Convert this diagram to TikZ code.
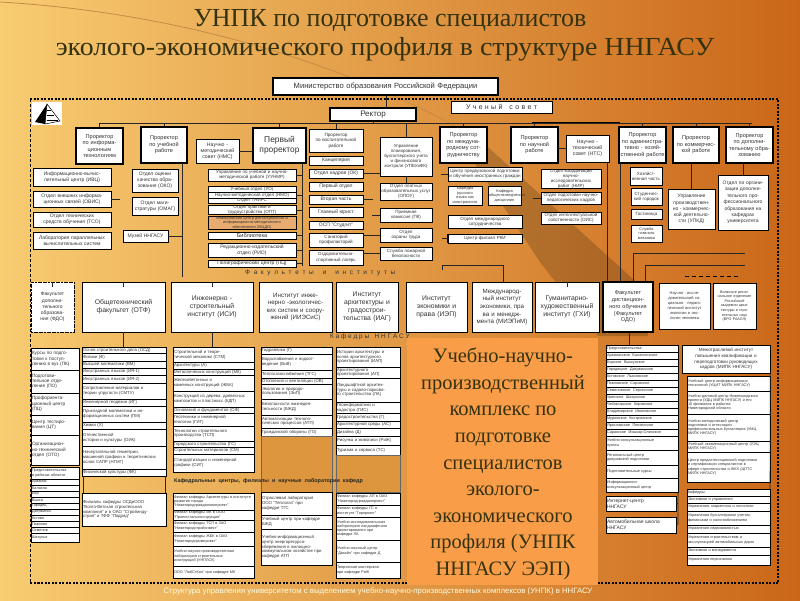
\documentclass[tikz,border=0pt]{standalone}
\usepackage{fontspec}
\setmainfont{Liberation Serif}
\setsansfont{Liberation Sans}
\definecolor{bgL}{RGB}{248,204,114}
\definecolor{bgM}{RGB}{238,168,82}
\definecolor{bgR}{RGB}{202,102,24}
\definecolor{ttl}{RGB}{52,50,16}
\definecolor{ovl}{RGB}{249,157,72}
\definecolor{darkfill}{RGB}{222,150,62}
\definecolor{brfill}{RGB}{232,172,112}
\definecolor{arcc}{RGB}{196,140,70}
\newcommand\bx[7][]{%
 \pgfmathsetmacro\bw{#5-#3}%
 \pgfmathsetmacro\bh{#6-#4}%
 \pgfmathsetmacro\bxc{(#3+#5)/2}%
 \pgfmathsetmacro\byc{(#4+#6)/2}%
 \pgfmathsetmacro\btw{max(#5-#3-2,1)}%
 \node[box,minimum width=\bw pt,minimum height=\bh pt,text width=\btw pt,#1] (#2) at (\bxc,\byc) {#7};}
\newcommand\stk[6][]{%
 \xdef\cury{#5}%
 \foreach \hh/\tx [count=\ii] in {#6}{%
   \pgfmathsetmacro\ny{\cury+\hh}%
   \bx[#1]{#2\ii}{#3}{\cury}{#4}{\ny}{\tx}%
   \global\let\cury\ny}%
}
\tikzset{
 box/.style={draw=black,line width=0.5pt,fill=white,inner xsep=1pt,inner ysep=0.2pt,align=center,font=\sffamily\fontsize{4.5}{5}\selectfont,text=black!80},
 pr/.style={line width=1.4pt,font=\sffamily\fontsize{5.6}{6.6}\selectfont},
 sb/.style={font=\sffamily\fontsize{5}{5.8}\selectfont},
 fac/.style={line width=0.8pt,font=\sffamily\fontsize{6.8}{8}\selectfont},
 lst/.style={align=left,font=\sffamily\fontsize{4.3}{4.8}\selectfont},
 tiny/.style={align=left,font=\sffamily\fontsize{3.8}{4.3}\selectfont},
 ln/.style={draw=black!85,line width=0.6pt},
 frame/.style={draw=black,line width=1.5pt,dash pattern=on 2pt off 1.5pt},
}
\begin{document}
\begin{tikzpicture}[x=1pt,y=-1pt]
\useasboundingbox (0,0) rectangle (800,600);
% background
\shade[left color=bgL,middle color=bgM,right color=bgR] (0,0) rectangle (800,600);
\fill[black,opacity=0.18] (458,138) -- (478,138) -- (645,290) -- (648,336) -- (598,336) -- (540,262) -- cycle;
\draw[arcc,line width=0.8pt] (0,2) .. controls (170,12) and (330,58) .. (455,126);
% title
\node[text=ttl,font=\fontsize{26}{30}\selectfont,inner sep=0] (t1) at (390,20) {УНПК по подготовке специалистов};
\node[text=ttl,font=\fontsize{26}{30}\selectfont,inner sep=0,xscale=1.07] (t2) at (385,49) {эколого-экономического профиля в структуре ННГАСУ};
% ministry
\bx[line width=2.6pt,font=\sffamily\fontsize{7.6}{9}\selectfont]{min}{273}{78}{498}{95}{Министерство образования Российской Федерации}
% frame
\draw[frame] (30,99) -- (778,99) -- (778,583) -- (30,583);
\draw[black,line width=1pt,dash pattern=on 3pt off 2pt] (30,99) -- (30,583);
% logo
\fill[white] (32,102) rectangle (62,125);
\fill[black] (47,104) -- (35,122) -- (45,124) -- cycle;
\draw[black,line width=0.5pt] (47,104) -- (45,124) -- (60,121) -- cycle;
\foreach \yy in {110,115,120}{\draw[black,line width=0.4pt] (46.5,\yy) -- ({46.5+(\yy-104)*0.7},\yy);}
% rector, council
\bx[line width=2.2pt,font=\sffamily\fontsize{8}{9}\selectfont]{rect}{330}{108}{416}{121}{Ректор}
\bx[line width=1pt,font=\sffamily\fontsize{7}{8}\selectfont]{sovet}{451}{101}{552}{113}{У~ч~е~н~ы~й~~~с~о~в~е~т}
\draw[ln] (min.south -| 386,0) -- (rect.north -| 386,0);
\draw[ln] (rect.south) -- ++(0,2);
% prorectors
\bx[pr]{pr1}{76}{128}{123}{164}{Проректор\\по информа-\\ционным\\технологиям}
\bx[pr]{pr2}{141}{127}{187}{163}{Проректор\\по учебной\\работе}
\bx[line width=0.8pt,font=\sffamily\fontsize{5.2}{6.2}\selectfont]{nms}{196}{139}{239}{163}{Научно -\\методический\\совет (НМС)}
\bx[line width=1.5pt,font=\sffamily\fontsize{8.4}{10}\selectfont]{pp}{253}{128}{306}{163}{Первый\\проректор}
\bx[line width=0.8pt,font=\sffamily\fontsize{4.6}{5.4}\selectfont]{pr5}{309}{129}{363}{152}{Проректор\\по воспитательной\\работе}
\bx[line width=0.8pt,font=\sffamily\fontsize{4.4}{5.2}\selectfont]{upb}{380}{137}{432}{176}{Управление\\планирования,\\бухгалтерского учета\\и финансового\\контроля (УПБУиФК)}
\bx[pr]{pr7}{440}{127}{487}{163}{Проректор\\по междуна-\\родному сот-\\рудничеству}
\bx[pr]{pr8}{511}{127}{558}{163}{Проректор\\по научной\\работе}
\bx[line width=0.8pt,font=\sffamily\fontsize{5.2}{6.2}\selectfont]{nts}{566}{135}{609}{162}{Научно -\\технический\\совет (НТС)}
\bx[pr]{pr10}{619}{127}{666}{163}{Проректор\\по администра-\\тивно - хозяй-\\ственной работе}
\bx[pr]{pr11}{673}{127}{719}{163}{Проректор\\по коммерчес-\\кой работе}
\bx[pr]{pr12}{726}{127}{773}{163}{Проректор\\по дополни-\\тельному обра-\\зованию}
% bus
\draw[ln] (100,123) -- (752,123);
\draw[black,line width=1.6pt] (532,122.5) -- (620,122.5);
\foreach \n in {pr1,pr2,pp,pr5,upb,pr7,pr8,pr10,pr11,pr12}{\draw[ln] (\n.north) -- (\n.north |- 0,123);}
\draw[ln] (nms.east) -- (nms.east -| pp.west);
\draw[ln] (nts.west) -- (nts.west -| pr8.east);
% under pr1
\bx[sb]{ivc}{33}{168}{111}{186}{Информационно-вычис-\\лительный центр (ИВЦ)}
\bx[sb]{ovis}{33}{191}{111}{207}{Отдел внешних информа-\\ционных связей (ОВИС)}
\bx[sb]{tso}{33}{212}{111}{227}{Отдел технических\\средств обучения (ТСО)}
\bx[sb]{lpv}{33}{232}{111}{249}{Лаборатория параллельных\\вычислительных систем}
\draw[ln] (ovis.east) -- ++(9,0);
% under pr2
\bx[sb]{oko}{132}{169}{178}{192}{Отдел оценки\\качества обра-\\зования (ОКО)}
\bx[sb]{omag}{132}{197}{178}{215}{Отдел маги-\\стратуры (ОМАГ)}
\bx[sb]{muz}{123}{230}{168}{242}{Музей ННГАСУ}
\coordinate (v2t) at (182,163);
\coordinate (v2b) at (182,277);
\draw[ln] (v2t) -- (v2b);
\draw[ln] (muz.east) -- (muz.east -| v2t);
% under first prorector
\bx{uunmr}{208}{169}{296}{181}{Управление по учебной и научно-\\методической работе (УУНМР)}
\bx{uo}{208}{186}{296}{192}{Учебный отдел (УО)}
\bx{nmo}{208}{192}{296}{198}{Научно-методический отдел (НМО)}
\bx{tnirs}{208}{198}{296}{203}{Отдел ТНИРС}
\bx{opt}{208}{207}{296}{213}{Отдел практики и трудоустройства (ОПТ)}
\bx[fill=brfill,font=\sffamily\fontsize{3.9}{4.5}\selectfont]{mcd}{208}{217}{296}{228}{Межвузовский центр дистанционного и\\информационно-методического обеспечения (МЦДО)}
\bx[font=\sffamily\fontsize{5.6}{6}\selectfont]{bibl}{208}{232}{296}{239}{Библиотека}
\bx[sb]{rio}{208}{243}{296}{257}{Редакционно-издательский\\отдел (РИО)}
\bx[sb]{pc}{208}{260}{296}{267}{Полиграфический центр (ПЦ)}
\coordinate (vpt) at (302,163);
\coordinate (vpb) at (302,266);
\draw[ln] (vpt) -- (vpb);
\foreach \n in {uunmr,nmo,opt,bibl,rio,pc}{\draw[ln] (\n.east) -- (\n.east -| vpt);}
% under pr5
\bx[sb]{kanc}{309}{156}{363}{165}{Канцелярия}
\bx[sb]{ok}{309}{169}{363}{178}{Отдел кадров (ОК)}
\bx[sb]{po}{309}{182}{363}{191}{Первый отдел}
\bx[sb]{vch}{309}{195}{363}{204}{Вторая часть}
\bx[sb]{gju}{309}{207}{363}{217}{Главный юрист}
\bx[sb]{osp}{309}{221}{363}{229}{ОСП "Студгит"}
\bx[font=\sffamily\fontsize{4.6}{5.4}\selectfont]{san}{309}{233}{363}{247}{Санаторий\\профилакторий}
\bx[font=\sffamily\fontsize{4.4}{5.2}\selectfont]{lag}{309}{250}{363}{265}{Оздоровительно-\\спортивный лагерь}
% col6
\bx{opou}{380}{183}{432}{200}{Отдел платных\\образовательных услуг\\(ОПОУ)}
\bx{pk}{380}{208}{432}{222}{Приемная\\комиссия (ПК)}
\bx{oot}{380}{228}{432}{242}{Отдел\\охраны труда}
\bx{spb}{380}{247}{432}{260}{Служба пожарной\\безопасности}
\draw[ln] (upb.south) -- (opou.north);
\draw[ln] (ok.east) -- (ok.east -| upb.west);
\draw[ln] (vch.east) -- ++(10,0);
\draw[ln] (pk.west) -- ++(-8,0);
\draw[ln] (san.east |- oot.west) -- (oot.west);
\draw[ln] (lag.east |- spb.west) -- (spb.west);
% under pr7
\bx{cpp}{448}{167}{522}{181}{Центр предвузовской подготовки\\и обучения иностранных граждан}
\bx[font=\sffamily\fontsize{3.9}{4.5}\selectfont]{kri}{448}{186}{482}{205}{Кафедра русского\\языка как\\иностранного}
\bx[font=\sffamily\fontsize{3.9}{4.5}\selectfont]{kod}{488}{186}{521}{205}{Кафедра\\обществоведческих\\дисциплин}
\bx{oms}{448}{215}{522}{228}{Отдел международного\\сотрудничества}
\bx[line width=0.5pt]{rki}{448}{234}{522}{243}{Центр-филиал РКИ}
\draw[black,line width=1.6pt] (rki.north west) -- (rki.south west);
\draw[ln] (cpp.west) -- ++(-7,0);
\draw[ln] (rki.west) -- ++(-6,0);
% under pr8
\bx{n1}{541}{173}{601}{185}{Отдел координации научно-\\исследовательских работ (НИР)}
\bx{n2}{541}{192}{601}{204}{Отдел подготовки научно-\\педагогических кадров}
\bx{n3}{541}{212}{601}{224}{Отдел интеллектуальной\\собственности (ОИС)}
\draw[ln] (n2.west) -- ++(-8,0);
\coordinate (v8t) at (607,162);
\coordinate (v8b) at (607,282);
\draw[ln] (v8t) -- (v8b);
% under pr10
\bx{hch}{630}{167}{662}{185}{Хозяйст-\\венная часть}
\bx{sg}{631}{188}{662}{205}{Студенчес-\\кий городок}
\bx{gost}{631}{209}{662}{219}{Гостиница}
\bx[font=\sffamily\fontsize{3.9}{4.5}\selectfont]{slm}{631}{225}{662}{242}{Служба\\главного\\механика}
\coordinate (v10t) at (620,163);
\coordinate (v10b) at (620,282);
\draw[ln] (v10t) -- (v10b);
% pr11, pr12
\bx[font=\sffamily\fontsize{5}{6.2}\selectfont]{upkd}{668}{189}{715}{229}{Управление\\производствен-\\но - коммерчес-\\кой деятельно-\\сти (УПКД)}
\draw[ln] (pr11.south -| upkd.north) -- (upkd.north);
\bx[font=\sffamily\fontsize{5}{6.4}\selectfont]{odpo}{718}{175}{768}{230}{Отдел по органи-\\зации дополни-\\тельного про-\\фессионального\\образования на\\кафедрах\\университета}
\draw[ln] (pr12.south -| odpo.north) -- (odpo.north);
% misc lines to faculties
\draw[ln] (633,282) -- (633,253) -- (745,253);
\draw[ln] (645,282) -- (645,265) -- (745,265);
\draw[black,line width=0.8pt,dash pattern=on 4pt off 3pt] (685,276) -- (738,276);
\draw[ln] (442,270) -- (442,265) -- (503,265) -- (503,282);
% faculty label
\node[font=\sffamily\fontsize{6.5}{7}\selectfont,text=black!80,anchor=west,inner sep=0] (faclab) at (245,273) {Ф~~а~~к~~у~~л~~ь~~т~~е~~т~~ы~~~~~и~~~~~и~~н~~с~~т~~и~~т~~у~~т~~ы};
% faculties
\bx[fac,font=\sffamily\fontsize{5}{6.2}\selectfont,dash pattern=on 2pt off 0.6pt]{fdo}{31}{282}{74}{332}{Факультет\\дополни-\\тельного\\образова-\\ния (ФДО)}
\bx[fac]{otf}{82}{282}{165}{332}{Общетехнический\\факультет (ОТФ)}
\bx[fac]{isi}{171}{282}{253}{332}{Инженерно -\\строительный\\институт (ИСИ)}
\bx[fac,font=\sffamily\fontsize{6.2}{7.6}\selectfont]{iies}{259}{282}{332}{332}{Институт инже-\\нерно -экологичес-\\ких систем и соору-\\жений (ИИЭСиС)}
\bx[fac]{iag}{336}{282}{398}{332}{Институт\\архитектуры и\\градострои-\\тельства (ИАГ)}
\bx[fac]{iep}{406}{282}{467}{332}{Институт\\экономики и\\права (ИЭП)}
\bx[fac,font=\sffamily\fontsize{6.2}{7.6}\selectfont]{mie}{472}{282}{532}{332}{Международ-\\ный институт\\экономики, пра\\ва и менедж-\\мента (МИЭПиМ)}
\bx[fac]{ghi}{535}{282}{599}{332}{Гуманитарно-\\художественный\\институт (ГХИ)}
\bx[fac,line width=1.2pt,font=\sffamily\fontsize{5.6}{6.8}\selectfont]{odo}{603}{282}{653}{332}{Факультет\\дистанцион-\\ного обучения\\(Факультет\\ОДО)}
\bx[fac,font=\sffamily\fontsize{4}{5}\selectfont]{nisp}{659}{283}{710}{329}{Научно - иссле-\\довательский со-\\циально - педаго-\\гический институт\\экологии и эко-\\логии человека}
\bx[fac,font=\sffamily\fontsize{3.7}{4.6}\selectfont]{vro}{713}{283}{756}{329}{Волжское регио-\\нальное отделение\\Российской\\академии архи-\\тектуры и стро-\\ительных наук\\(ВРО РААСН)}
\foreach \n in {fdo,otf,isi,ghi}{\draw[ln] (\n.north) -- ++(0,5);}
% kafedry label
\node[font=\sffamily\fontsize{6.5}{7}\selectfont,text=black!80,anchor=east,inner sep=0] (kaflab) at (410,337) {К~а~ф~е~д~р~ы~~~Н~Н~Г~А~С~У};
\draw[ln] (otf.south) -- ++(0,15);
\draw[ln] (isi.south) -- ++(0,15);
\draw[ln] (odo.south -| 629,0) -- (629,345);
% column A (FDO)
\stk[lst,font=\sffamily\fontsize{4.7}{5.3}\selectfont]{a}{31}{79}{348}{22/{Курсы по подго-\\товке к поступ-\\лению в вуз (ПК)},23/{Подготови-\\тельное отде-\\ление (ПО)},22/{Профориента-\\ционный центр\\(ПЦ)},20/{Центр тестиро-\\вания (ЦТ)},30/{Организацион-\\но-технический\\отдел (ОТО)}}
\stk[tiny]{aa}{31}{79}{467}{12/{Представительства\\в районах области},6/{Арзамас},6/{Балахна},6/{Бор},6/{Выкса},6/{Городец},6/{Дзержинск},6/{Кстово},6/{Павлово},6/{Семенов},9/{Шахунья}}
% column B (OTF)
\stk[lst]{b}{82}{166}{347}{6/{Основ строительного дела (ОСД)},8/{Физики (Ф)},7/{Высшей математики (ВМ)},7/{Иностранных языков (ИЯ-1)},8/{Иностранных языков (ИЯ-2)},16/{Сопротивления материалов и\\теории упругости (СМТУ)},7/{Инженерной геодезии (ИГ)},16/{Прикладной математики и ин-\\формационных систем (ПМ)},7/{Химии (Х)},17/{Отечественной\\истории и культуры (ОИК)},23/{Начертательной геометрии,\\машинной графики и теоретических\\основ САПР (НГМГ)},7/{Физической культуры (ФК)}}
\draw[ln] (83,476) -- (83,493);
\draw[ln] (165,476) -- (165,493);
\bx[lst]{bfil}{82}{493}{166}{526}{Филиалы кафедры ОСДиООО\\"Волго-Вятская строительная\\компания" и в ОАО "Стройинду-\\стрия" и ТФФ "Подряд"}
% column C (ISI)
\stk[lst]{c}{173}{254}{347}{15/{Строительной и теоре-\\тической механики (СТМ)},7/{Архитектуры (А)},6/{Металлических конструкций (МК)},16/{Железобетонных и\\каменных конструкций (ЖБК)},16/{Конструкций из дерева, древесных\\композитов и пластмасс (КДП)},6/{Оснований и фундаментов (ОФ)},13/{Геотехники и инженерной\\геологии (ГИГ)},15/{Технологии строительного\\производства (ТСП)},6/{Городского строительства (ГС)},7/{Строительных материалов (СМ)},18/{Стандартизации и инженерной\\графики (СИГ)}}
\stk[tiny]{cc}{173}{254}{493}{17/{Филиал кафедры Архитектуры в институте\\развития города\\"Нижегородгражданниипроект"},10/{Филиал кафедры МК в ООО\\"Проектстальконструкция"},12/{Филиал кафедры ТСП в ЗАО\\"Нижегородстройинвест"},14/{Филиал кафедры ЖБК в ОАО\\"Нижегородпромпроект"},20/{Учебно-научно-производственная\\лаборатория строительных\\конструкций (УНПЛСК)},12/{ООО "ЛабСтКон" при кафедре МК}}
% column D
\stk[lst]{d}{261}{332}{347}{7/{Гидравлики (Г)},16/{Водоснабжения и водоот-\\ведения (ВиВ)},8/{Теплогазоснабжения (ТГС)},6/{Отопления и вентиляции (ОВ)},15/{Экологии и природо-\\пользования (ЭиП)},16/{Безопасности жизнедея-\\тельности (БЖД)},13/{Автоматизации техноло-\\гических процессов (АТП)},8/{Гражданской обороны (ГО)}}
\fill[darkfill] (261,436) rectangle (332,492);
\draw[black!60,line width=0.4pt] (261,436) rectangle (332,492);
\stk[lst]{dd}{261}{332}{492}{23/{Отраслевая лаборатория\\ООО "Теплогаз" при\\кафедре ТГС},14/{Учебный центр при кафедре\\БЖД},36/{Учебно-информационный\\центр энергоресурсо-\\сбережения в жилищно-\\коммунальном хозяйстве при\\кафедре АТП}}
% column E
\stk[lst]{e}{336}{400}{347}{20/{Истории архитектуры и\\основ архитектурного\\проектирования (ИАП)},11/{Архитектурного\\проектирования (АП)},24/{Ландшафтной архитек-\\туры и садово-парково-\\го строительства (ЛА)},11/{Геоинформатики и\\кадастра (ГИС)},8/{Градостроительства (Г)},7/{Архитектурной среды (АС)},8/{Дизайна (Д)},9/{Рисунка и живописи (РиЖ)},10/{Туризма и сервиса (ТС)}}
\fill[darkfill] (336,455) rectangle (400,492);
\draw[black!60,line width=0.4pt] (336,455) rectangle (400,492);
\stk[tiny]{ee}{336}{400}{493}{12/{Филиал кафедры АП в ОАО\\"Нижегородгражданпроект"},12/{Филиал кафедры ГС в\\институте "Горпроект"},23/{Учебно-исследовательская\\лаборатория ландшафтного\\проектирования при\\кафедре ЛА},22/{Учебно-научный центр\\"Дизайн" при кафедре Д},16/{Творческая мастерская\\при кафедре РиЖ}}
\node[font=\sffamily\bfseries\fontsize{5.4}{6}\selectfont,text=black!85,anchor=west,inner sep=0] (banner) at (174,481) {Кафедральные~ центры,~ филиалы~ и~ научные~ лаборатории~ кафедр};
% column F
\stk[tiny]{f}{606}{678}{345}{7/{Представительства:},7/{Арзамасское \ Балахнинское},7/{Борское \ Выксунское},7/{Городецкое \ Дзержинское},7/{Кстовское \ Лысковское},7/{Павловское \ Саровское},7/{Семеновское \ Сергачское},7/{Уренское \ Шахунское},7/{Чебоксарское \ Кировское},7/{Владимирское \ Ивановское},7/{Муромское \ Костромское},7/{Ярославское \ Пензенское},7/{Саранское \ Йошкар-Олинское},14/{Учебно-консультационные\\пункты},15/{Региональный центр\\довузовской подготовки},13/{Подготовительные курсы},14/{Информационно-\\консультационный центр}}
\bx[lst,font=\sffamily\fontsize{5}{6}\selectfont]{inet}{606}{496}{676}{511}{Интернет-центр\\ННГАСУ}
\bx[lst,font=\sffamily\fontsize{5}{6}\selectfont]{avto}{606}{517}{676}{533}{Автомобильная школа\\ННГАСУ}
\draw[ln] (678,492) -- (678,524) -- (avto.east);
\draw[ln] (inet.east) -- (678,503.5);
% column G
\bx[font=\sffamily\fontsize{4.6}{5.6}\selectfont]{mipk}{682}{345}{770}{373}{Межотраслевой институт\\повышения квалификации и\\переподготовки руководящих\\кадров (МИПК ННГАСУ)}
\stk[tiny]{g}{687}{770}{376}{15/{Учебный центр информационных\\технологий (УЦИТ МИПК ННГАСУ)},23/{Учебно-деловой центр Нижегородского\\проекта (УДЦ МИПК ННГАСУ) и его\\10 филиалов в районах\\Нижегородской области},27/{Учебно-методический центр\\подготовки и аттестации\\профессиональных бухгалтеров (УМЦ\\МИПК ННГАСУ)},11/{Учебный экзаменационный центр (УЭЦ\\МИПК ННГАСУ)},30/{Центр предаттестационной подготовки\\и сертификации специалистов в\\сфере строительства и ЖКХ (ЦПТС\\МИПК ННГАСУ)}}
\stk[tiny]{gk}{687}{770}{489}{7/{Кафедры:},7/{Экономики и управления},8/{Управления, маркетинга и логистики},14/{Управления бухгалтерским учетом,\\финансами и налогообложением},8/{Управления недвижимостью},14/{Управления строительством и\\эксплуатацией автомобильных дорог},8/{Экономики и менеджмента},10/{Управления персоналом}}
\draw[ln] (mipk.south east) -- (770,489);
% overlay
\fill[ovl] (407,338) rectangle (598,585);
\node[text=ttl,font=\fontsize{20.5}{26.6}\selectfont,align=center,inner sep=0] (ovt) at (503,464) {Учебно-научно-\\производственный\\комплекс по\\подготовке\\специалистов\\эколого-\\экономического\\профиля (УНПК\\ННГАСУ ЭЭП)};
% caption
\node[text=white!88!yellow,font=\sffamily\fontsize{7.8}{8}\selectfont,inner sep=0] (cap) at (378,591) {Структура управления университетом с выделением учебно-научно-производственных комплексов (УНПК) в ННГАСУ};
\end{tikzpicture}
\end{document}
